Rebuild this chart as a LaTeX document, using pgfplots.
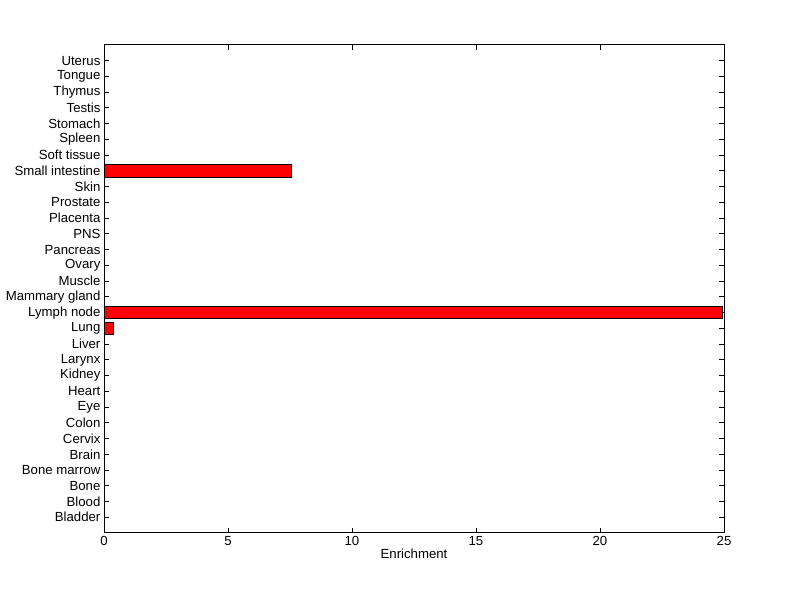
\documentclass[border=0pt]{standalone}
\usepackage{pgfplots}
\pgfplotsset{compat=1.18}
\usepackage{fontspec}
\setmainfont{Liberation Sans}
\begin{document}
\begin{tikzpicture}
\path[use as bounding box] (0,0) rectangle (600pt,449.25pt);
\begin{axis}[
  at={(78pt,49.5pt)}, anchor=south west,
  scale only axis, width=465pt, height=366pt,
  xmin=0, xmax=25, ymin=-1, ymax=30,
  xbar, bar width=0.8,
  xtick={0,5,10,15,20,25},
  ytick={0,...,29},
  yticklabels={Bladder,Blood,Bone,Bone marrow,Brain,Cervix,Colon,Eye,Heart,Kidney,Larynx,Liver,Lung,Lymph node,Mammary gland,Muscle,Ovary,Pancreas,PNS,Placenta,Prostate,Skin,Small intestine,Soft tissue,Spleen,Stomach,Testis,Thymus,Tongue,Uterus},
  tick align=inside, xtick pos=both, ytick pos=both,
  major tick length=3.75pt,
  tick style={black, line width=0.75pt},
  axis line style={black, line width=0.75pt},
  ticklabel style={font=\fontsize{9.9}{11}\selectfont},
  /pgf/number format/assume math mode=true,
  yticklabel style={inner sep=2.5pt},
  xticklabel style={inner sep=2.5pt},
  xlabel={Enrichment},
  xlabel style={font=\fontsize{9.9}{11}\selectfont, yshift=4pt},
]
\addplot[fill=red, draw=black, line width=0.75pt] coordinates {
(0,0) (0,1) (0,2) (0,3) (0,4) (0,5) (0,6) (0,7) (0,8) (0,9)
(0,10) (0,11) (0.39,12) (24.93,13) (0,14) (0,15) (0,16) (0,17) (0,18) (0,19)
(0,20) (0,21) (7.55,22) (0,23) (0,24) (0,25) (0,26) (0,27) (0,28) (0,29)
};
\end{axis}
\end{tikzpicture}
\end{document}
